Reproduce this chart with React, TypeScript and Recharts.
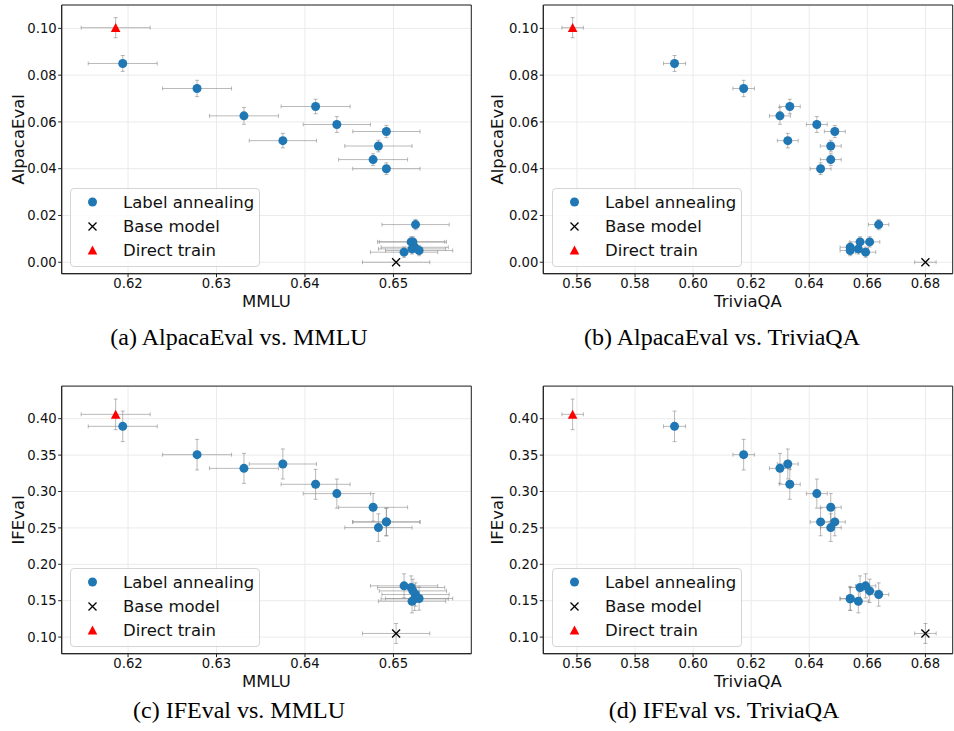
import React from "react";
import {
    ScatterChart,
    Scatter,
    XAxis,
    YAxis,
    CartesianGrid,
    ErrorBar,
    ReferenceArea,
    Legend,
} from "recharts";

// label annealing runs (same order in every array)
const laMmlu = [0.6194, 0.6278, 0.6412, 0.6331, 0.6436, 0.6492, 0.6375, 0.6483, 0.6477, 0.6492, 0.6525, 0.652, 0.6522, 0.6524, 0.6529, 0.6521, 0.6512];
const laTriviaQA = [0.5936, 0.6174, 0.6333, 0.6299, 0.6426, 0.6488, 0.6326, 0.6474, 0.6474, 0.6439, 0.6639, 0.6575, 0.6608, 0.6541, 0.6541, 0.6569, 0.6594];
const laAlpacaEval = [0.085, 0.0743, 0.0666, 0.0626, 0.0589, 0.0559, 0.052, 0.0497, 0.0439, 0.04, 0.0161, 0.0087, 0.0087, 0.0064, 0.005, 0.0057, 0.0043];
const laIFEval = [0.3895, 0.3506, 0.3099, 0.3318, 0.2971, 0.2582, 0.3378, 0.2504, 0.2783, 0.2582, 0.1585, 0.1681, 0.1635, 0.1525, 0.153, 0.1493, 0.1704];

const laMmluErr = [0.0039, 0.0039, 0.0039, 0.0039, 0.0038, 0.0038, 0.0038, 0.0038, 0.0039, 0.0038, 0.0038, 0.0038, 0.0038, 0.0038, 0.0038, 0.0038, 0.0038];
const laTriviaQAErr = [0.0038, 0.0037, 0.0036, 0.0036, 0.0036, 0.0036, 0.0036, 0.0036, 0.0036, 0.0036, 0.0035, 0.0035, 0.0035, 0.0035, 0.0035, 0.0035, 0.0035];
const laAlpacaEvalErr = [0.0034, 0.0035, 0.0031, 0.0036, 0.0034, 0.0026, 0.0031, 0.0025, 0.0025, 0.0025, 0.0022, 0.0022, 0.0022, 0.0022, 0.0022, 0.0022, 0.0022];
const laIFEvalErr = [0.021, 0.021, 0.0206, 0.0206, 0.02, 0.019, 0.0206, 0.019, 0.019, 0.019, 0.016, 0.016, 0.016, 0.016, 0.016, 0.016, 0.0165];

// [value, error]
const baseMmlu = [0.6503, 0.0038];
const baseTriviaQA = [0.68, 0.0037];
const baseAlpacaEval = [0.0, 0.0];
const baseIFEval = [0.105, 0.0137];

const directMmlu = [0.6186, 0.0039];
const directTriviaQA = [0.5585, 0.0037];
const directAlpacaEval = [0.1003, 0.0043];
const directIFEval = [0.406, 0.021];

const mmluTicks = [0.62, 0.63, 0.64, 0.65];
const triviaQATicks = [0.56, 0.58, 0.6, 0.62, 0.64, 0.66, 0.68];
const alpacaEvalTicks = [0, 0.02, 0.04, 0.06, 0.08, 0.1];
const ifEvalTicks = [0.1, 0.15, 0.2, 0.25, 0.3, 0.35, 0.4];

const FONT = "DejaVu Sans";
const BLUE = "#1f77b4";

const Circle = (p: any) => <circle cx={p.cx} cy={p.cy} r={4.5} fill={BLUE} />;
const Triangle = (p: any) => (
    <polygon
        points={`${p.cx},${p.cy - 4.6} ${p.cx - 4.8},${p.cy + 4.4} ${p.cx + 4.8},${p.cy + 4.4}`}
        fill="#ff0000"
    />
);
const Cross = (p: any) => (
    <path
        d={`M${p.cx - 4},${p.cy - 4}L${p.cx + 4},${p.cy + 4}M${p.cx - 4},${p.cy + 4}L${p.cx + 4},${p.cy - 4}`}
        stroke="#000"
        strokeWidth={1.3}
        fill="none"
    />
);
const Empty = () => <g />;

function LegendBox() {
    return (
        <div
            style={{
                width: 190,
                height: 79,
                boxSizing: "border-box",
                border: "1px solid #d5d5d5",
                borderRadius: 4,
                background: "rgba(255,255,255,0.8)",
            }}
        >
            <svg width={188} height={77} style={{ display: "block" }}>
                <Circle cx={21.5} cy={13} />
                <text x={52} y={13} dy="0.36em" fontFamily={FONT} fontSize={16.5} fill="#111">
                    Label annealing
                </text>
                <Cross cx={21.5} cy={37.5} />
                <text x={52} y={37.5} dy="0.36em" fontFamily={FONT} fontSize={16.5} fill="#111">
                    Base model
                </text>
                <Triangle cx={21.5} cy={61} />
                <text x={52} y={61} dy="0.36em" fontFamily={FONT} fontSize={16.5} fill="#111">
                    Direct train
                </text>
            </svg>
        </div>
    );
}

type PanelProps = {
    left: number;
    top: number;
    width: number;
    marginTop: number;
    marginRight: number;
    yWidth: number;
    xs: number[];
    ys: number[];
    xErr: number[];
    yErr: number[];
    baseX: number[];
    baseY: number[];
    directX: number[];
    directY: number[];
    xDomain: [number, number];
    yDomain: [number, number];
    xTicks: number[];
    yTicks: number[];
    xLabel: string;
    yLabel: string;
    yLabelOffset: number;
    legendLeft: number;
};

const HEIGHT = 320;
const X_HEIGHT = 46.3;

function Panel(p: PanelProps) {
    const la = p.xs.map((x, i) => ({ x, y: p.ys[i], ex: p.xErr[i], ey: p.yErr[i] }));
    const base = [{ x: p.baseX[0], y: p.baseY[0], ex: p.baseX[1], ey: p.baseY[1] }];
    const direct = [{ x: p.directX[0], y: p.directY[0], ex: p.directX[1], ey: p.directY[1] }];
    const all = [...la, ...direct, ...base];
    const tick = { fill: "#111", fontSize: 13.2, fontFamily: FONT };

    return (
        <div style={{ position: "absolute", left: p.left, top: p.top }}>
            <ScatterChart
                width={p.width}
                height={HEIGHT}
                margin={{ top: p.marginTop, right: p.marginRight, bottom: 0, left: 0 }}
            >
                <CartesianGrid stroke="#ebebeb" strokeWidth={1} />
                <XAxis
                    type="number"
                    dataKey="x"
                    domain={p.xDomain}
                    ticks={p.xTicks}
                    interval={0}
                    allowDataOverflow
                    height={X_HEIGHT}
                    tickSize={3.5}
                    tickMargin={1.5}
                    tickFormatter={(v: number) => v.toFixed(2)}
                    axisLine={{ stroke: "#222" }}
                    tickLine={{ stroke: "#222" }}
                    tick={tick}
                    label={{
                        value: p.xLabel,
                        position: "insideBottom",
                        offset: 13.5,
                        style: { fontFamily: FONT, fontSize: 16.5, fill: "#111" },
                    }}
                />
                <YAxis
                    type="number"
                    dataKey="y"
                    domain={p.yDomain}
                    ticks={p.yTicks}
                    interval={0}
                    allowDataOverflow
                    width={p.yWidth}
                    tickSize={3.5}
                    tickMargin={1.5}
                    tickFormatter={(v: number) => v.toFixed(2)}
                    axisLine={{ stroke: "#222" }}
                    tickLine={{ stroke: "#222" }}
                    tick={tick}
                    label={{
                        value: p.yLabel,
                        angle: -90,
                        position: "insideLeft",
                        offset: p.yLabelOffset,
                        style: { textAnchor: "middle", fontFamily: FONT, fontSize: 16.5, fill: "#111" },
                    }}
                />
                <ReferenceArea
                    x1={p.xDomain[0]}
                    x2={p.xDomain[1]}
                    y1={p.yDomain[0]}
                    y2={p.yDomain[1]}
                    fill="none"
                    stroke="#222"
                    strokeWidth={1}
                    ifOverflow="visible"
                />
                <Scatter name="Label annealing" data={la} shape={Circle} isAnimationActive={false} />
                <Scatter name="Base model" data={base} shape={Cross} isAnimationActive={false} />
                <Scatter name="Direct train" data={direct} shape={Triangle} isAnimationActive={false} />
                <Scatter data={all} shape={Empty} isAnimationActive={false} legendType="none">
                    <ErrorBar dataKey="ex" direction="x" width={2} stroke="#808080" strokeOpacity={0.55} strokeWidth={1} isAnimationActive={false} />
                    <ErrorBar dataKey="ey" direction="y" width={2} stroke="#808080" strokeOpacity={0.55} strokeWidth={1} isAnimationActive={false} />
                </Scatter>
                <Legend
                    layout="vertical"
                    align="center"
                    verticalAlign="middle"
                    wrapperStyle={{ left: p.legendLeft, top: 188.3, width: 190, height: 79 }}
                    content={() => <LegendBox />}
                />
            </ScatterChart>
        </div>
    );
}

const mmluDomain: [number, number] = [0.6125, 0.6588];
const triviaQADomain: [number, number] = [0.5484, 0.6894];
const alpacaEvalDomain: [number, number] = [-0.0049, 0.11];
const ifEvalDomain: [number, number] = [0.0772, 0.4448];

const captionStyle = { fontFamily: "Liberation Serif", fontSize: 24, fill: "#000" };

export default function App() {
    return (
        <div style={{ position: "absolute", left: 0, top: 0, width: 954, height: 731, background: "#fff" }}>
            <svg width={954} height={731} style={{ position: "absolute", left: 0, top: 0 }}>
                <text x={239} y={345} textAnchor="middle" style={captionStyle}>(a) AlpacaEval vs. MMLU</text>
                <text x={722} y={345} textAnchor="middle" style={captionStyle}>(b) AlpacaEval vs. TriviaQA</text>
                <text x={239} y={718} textAnchor="middle" style={captionStyle}>(c) IFEval vs. MMLU</text>
                <text x={724} y={718} textAnchor="middle" style={captionStyle}>(d) IFEval vs. TriviaQA</text>
            </svg>
            <Panel
                left={0} top={0} width={480} marginTop={5} marginRight={8.7} yWidth={61.7}
                xs={laMmlu} ys={laAlpacaEval} xErr={laMmluErr} yErr={laAlpacaEvalErr}
                baseX={baseMmlu} baseY={baseAlpacaEval} directX={directMmlu} directY={directAlpacaEval}
                xDomain={mmluDomain} yDomain={alpacaEvalDomain} xTicks={mmluTicks} yTicks={alpacaEvalTicks}
                xLabel="MMLU" yLabel="AlpacaEval" yLabelOffset={18} legendLeft={70}
            />
            <Panel
                left={480} top={0} width={474} marginTop={5} marginRight={1.3} yWidth={63.3}
                xs={laTriviaQA} ys={laAlpacaEval} xErr={laTriviaQAErr} yErr={laAlpacaEvalErr}
                baseX={baseTriviaQA} baseY={baseAlpacaEval} directX={directTriviaQA} directY={directAlpacaEval}
                xDomain={triviaQADomain} yDomain={alpacaEvalDomain} xTicks={triviaQATicks} yTicks={alpacaEvalTicks}
                xLabel="TriviaQA" yLabel="AlpacaEval" yLabelOffset={17} legendLeft={72}
            />
            <Panel
                left={0} top={379.6} width={480} marginTop={6.1} marginRight={8.7} yWidth={61.7}
                xs={laMmlu} ys={laIFEval} xErr={laMmluErr} yErr={laIFEvalErr}
                baseX={baseMmlu} baseY={baseIFEval} directX={directMmlu} directY={directIFEval}
                xDomain={mmluDomain} yDomain={ifEvalDomain} xTicks={mmluTicks} yTicks={ifEvalTicks}
                xLabel="MMLU" yLabel="IFEval" yLabelOffset={18} legendLeft={70}
            />
            <Panel
                left={480} top={379.6} width={474} marginTop={6.1} marginRight={1.3} yWidth={63.3}
                xs={laTriviaQA} ys={laIFEval} xErr={laTriviaQAErr} yErr={laIFEvalErr}
                baseX={baseTriviaQA} baseY={baseIFEval} directX={directTriviaQA} directY={directIFEval}
                xDomain={triviaQADomain} yDomain={ifEvalDomain} xTicks={triviaQATicks} yTicks={ifEvalTicks}
                xLabel="TriviaQA" yLabel="IFEval" yLabelOffset={17} legendLeft={72}
            />
        </div>
    );
}
